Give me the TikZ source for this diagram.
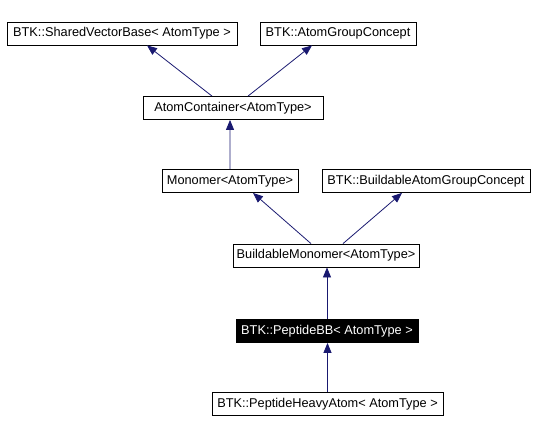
\documentclass[tikz,border=0pt]{standalone}
\usepackage{fontspec}
\setmainfont{Liberation Sans}
\usepackage{xcolor}
\usetikzlibrary{arrows.meta,calc}

\definecolor{edgeblue}{HTML}{191970}

\begin{document}
\begin{tikzpicture}[x=1bp,y=-1bp]
            \tikzset{class/.style = {draw, line width=0.8bp, inner xsep=3bp, inner ysep=0bp,
                minimum height=23bp, font=\fontsize{12.8}{14}\selectfont}}
            \tikzset{current/.style = {class, fill=black, text=white}}
            \tikzset{inherit/.style = {edgeblue, line width=0.8bp, -{Triangle[length=10bp,width=8bp]}}}
            \useasboundingbox (0,0) rectangle (536,435);

            % classes
            \node[class, minimum width=230bp] (svb) at (122,33.5) {BTK::SharedVectorBase< AtomType >};
            \node[class, minimum width=156bp] (agc) at (338,33.5) {BTK::AtomGroupConcept};
            \node[class, minimum width=180bp] (ac) at (233,108) {AtomContainer<AtomType>};
            \node[class, minimum width=136bp] (mono) at (230,181) {Monomer<AtomType>};
            \node[class, minimum width=208bp] (bagc) at (426,181) {BTK::BuildableAtomGroupConcept};
            \node[class, minimum width=186bp] (bm) at (326,255.5) {BuildableMonomer<AtomType>};
            \node[current, minimum width=182bp] (pbb) at (327,331) {BTK::PeptideBB< AtomType >};
            \node[class, minimum width=231bp] (pha) at (327.5,404) {BTK::PeptideHeavyAtom< AtomType >};

            % inheritance
            \draw[inherit] ([xshift=-21bp]ac.north) -- ([xshift=25bp]svb.south);
            \draw[inherit] ([xshift=15bp]ac.north) -- ([xshift=-26bp]agc.south);
            \draw[inherit] (mono.north) -- ([xshift=-3bp]ac.south);
            \draw[inherit] ([xshift=-15bp]bm.north) -- ([xshift=23bp]mono.south);
            \draw[inherit] ([xshift=17bp]bm.north) -- ([xshift=-24bp]bagc.south);
            \foreach \a/\b in {pbb/bm,pha/pbb} {\draw[inherit] (\a.north) -- (\a.north |- \b.south);}

          \end{tikzpicture}
\end{document}
